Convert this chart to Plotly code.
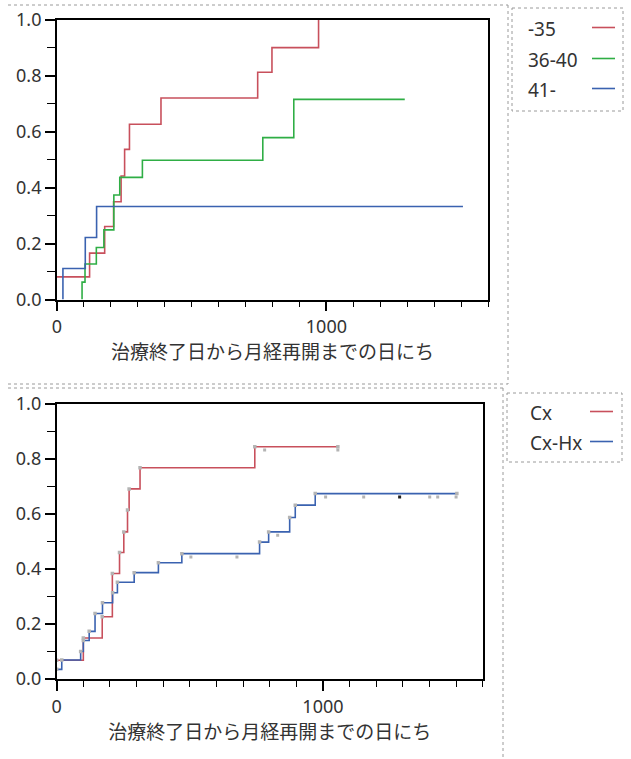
import numpy as np
import plotly.graph_objects as go

# ---------------- data ----------------
# Top panel: cumulative incidence by age group (step functions)
top_names = ["-35", "36-40", "41-"]
top_x_35 = [0, 121, 177, 210, 238, 251, 269, 386, 745, 798, 971]
top_y_35 = [0.081, 0.166, 0.261, 0.350, 0.442, 0.537, 0.627, 0.721, 0.813, 0.901, 1.000]
top_x_3640 = [93, 93, 104, 146, 174, 211, 233, 317, 764, 879, 1291]
top_y_3640 = [0.0, 0.062, 0.127, 0.186, 0.249, 0.374, 0.437, 0.498, 0.579, 0.716, 0.716]
top_x_41 = [22, 22, 105, 147, 1507]
top_y_41 = [0.0, 0.111, 0.222, 0.333, 0.333]

# Bottom panel: Cx vs Cx-Hx
bot_names = ["Cx", "Cx-Hx"]
bot_x_cx = [0, 100, 171, 209, 236, 252, 266, 272, 313, 744, 1056]
bot_y_cx = [0.068, 0.149, 0.226, 0.383, 0.459, 0.534, 0.613, 0.690, 0.767, 0.843, 0.843]
bot_x_cxhx = [0, 19, 90, 100, 122, 144, 172, 210, 228, 291, 382, 470, 762, 796, 875, 896, 971, 1503]
bot_y_cxhx = [0.035, 0.069, 0.100, 0.140, 0.173, 0.238, 0.277, 0.313, 0.351, 0.386, 0.422,
              0.455, 0.497, 0.534, 0.586, 0.631, 0.673, 0.673]
# censored observations (days)
cens_cx = [781, 1056]
cens_cxhx = [504, 677, 830, 1010, 1153, 1288, 1401, 1431, 1500]

x_ticks = [0, 1000]
x_title = "治療終了日から月経再開までの日にち"

# ---------------- styling ----------------
RED = "#c8505c"
GREEN = "#2fae45"
BLUE = "#3a62b0"
FONT = "Noto Sans, Noto Sans CJK JP, sans-serif"
TXT = "#333333"
W, H = 631, 759


def px(x):
    return x / W


def py(y):
    return 1 - y / H


def step_val(xs, ys, t):
    i = int(np.searchsorted(np.array(xs), t, side="right")) - 1
    return ys[max(i, 0)]


fig = go.Figure()

for xs, ys, col, nm in [(top_x_35, top_y_35, RED, top_names[0]),
                        (top_x_3640, top_y_3640, GREEN, top_names[1]),
                        (top_x_41, top_y_41, BLUE, top_names[2])]:
    fig.add_trace(go.Scatter(x=xs, y=ys, mode="lines", line=dict(color=col, width=1.6, shape="hv"),
                             name=nm, showlegend=False, xaxis="x", yaxis="y"))

for xs, ys, col, nm, cens in [(bot_x_cx, bot_y_cx, RED, bot_names[0], cens_cx),
                              (bot_x_cxhx, bot_y_cxhx, BLUE, bot_names[1], cens_cxhx)]:
    fig.add_trace(go.Scatter(x=xs, y=ys, mode="lines", line=dict(color=col, width=1.6, shape="hv"),
                             name=nm, showlegend=False, xaxis="x2", yaxis="y2"))
    fig.add_trace(go.Scatter(x=xs, y=ys, mode="markers",
                             marker=dict(color="#b4b4b4", size=3.5, symbol="square"),
                             showlegend=False, hoverinfo="skip", xaxis="x2", yaxis="y2"))
    cy = [step_val(xs, ys, t) - 0.012 for t in cens]
    ccol = ["#202020" if t == 1288 else "#b4b4b4" for t in cens]
    fig.add_trace(go.Scatter(x=cens, y=cy, mode="markers",
                             marker=dict(color=ccol, size=3, symbol="square"),
                             showlegend=False, hoverinfo="skip", xaxis="x2", yaxis="y2"))

axis_common = dict(showgrid=False, zeroline=False, showline=True, linecolor="black", linewidth=1.8,
                   mirror=True, ticks="outside", ticklen=10, tickwidth=1.5, tickcolor="black",
                   tickfont=dict(family=FONT, size=18, color=TXT), automargin=False)

xcommon = dict(axis_common, range=[0, 1600], tickvals=x_ticks,
               minor=dict(dtick=100, tick0=0, ticks="outside", ticklen=6, tickwidth=1.3, tickcolor="black"),
               title=dict(text=x_title, font=dict(family=FONT, size=19, color=TXT), standoff=9))
ycommon = dict(axis_common, range=[0, 1], dtick=0.2, tick0=0, tickformat=".1f",
               minor=dict(dtick=0.1, tick0=0, ticks="outside", ticklen=8, tickwidth=1.3, tickcolor="black"))

fig.update_layout(
    width=W, height=H, margin=dict(l=0, r=0, t=0, b=0),
    paper_bgcolor="white", plot_bgcolor="white",
    xaxis=dict(xcommon, domain=[px(57), px(488)], anchor="y"),
    yaxis=dict(ycommon, domain=[py(299.5), py(20)], anchor="x"),
    xaxis2=dict(xcommon, domain=[px(56.7), px(482.7)], anchor="y2"),
    yaxis2=dict(ycommon, domain=[py(679), py(403.5)], anchor="x2"),
    font=dict(family=FONT, color=TXT),
)

shapes = []
dot = dict(color="#9a9a9a", width=1, dash="dot")
# panel frames
shapes += [
    dict(type="line", xref="paper", yref="paper", x0=px(8), x1=px(508), y0=py(5), y1=py(5), line=dot),
    dict(type="line", xref="paper", yref="paper", x0=px(508), x1=px(508), y0=py(5), y1=py(384), line=dot),
    dict(type="line", xref="paper", yref="paper", x0=px(8), x1=px(508), y0=py(384), y1=py(384), line=dot),
    dict(type="line", xref="paper", yref="paper", x0=px(8), x1=px(503), y0=py(388), y1=py(388), line=dot),
    dict(type="line", xref="paper", yref="paper", x0=px(503), x1=px(503), y0=py(388), y1=py(759), line=dot),
    dict(type="rect", xref="paper", yref="paper", x0=px(512), x1=px(623), y0=py(8), y1=py(111), line=dot),
    dict(type="rect", xref="paper", yref="paper", x0=px(507), x1=px(622), y0=py(393), y1=py(462), line=dot),
]

annotations = []
for nm, col, yy in zip(top_names, [RED, GREEN, BLUE], [29, 60, 90]):
    annotations.append(dict(xref="paper", yref="paper", x=px(526), y=py(yy), text=nm, showarrow=False,
                            xanchor="left", yanchor="middle", font=dict(family=FONT, size=19, color=TXT)))
    shapes.append(dict(type="line", xref="paper", yref="paper", x0=px(592), x1=px(615),
                       y0=py(yy - 1.5), y1=py(yy - 1.5), line=dict(color=col, width=1.6)))
for nm, col, yy in zip(bot_names, [RED, BLUE], [413, 443]):
    annotations.append(dict(xref="paper", yref="paper", x=px(528), y=py(yy), text=nm, showarrow=False,
                            xanchor="left", yanchor="middle", font=dict(family=FONT, size=19, color=TXT)))
    shapes.append(dict(type="line", xref="paper", yref="paper", x0=px(590), x1=px(613),
                       y0=py(yy - 1.5), y1=py(yy - 1.5), line=dict(color=col, width=1.6)))

fig.update_layout(shapes=shapes, annotations=annotations)
fig.write_html("out.html")
